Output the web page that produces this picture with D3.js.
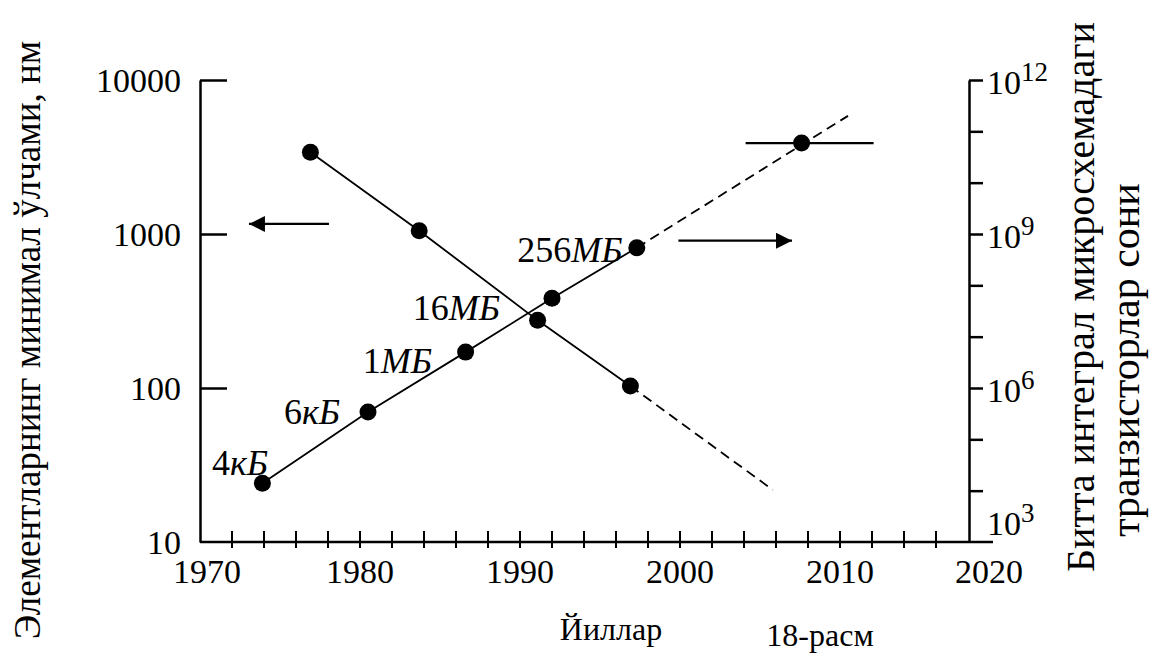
<!DOCTYPE html>
<html><head><meta charset="utf-8">
<script src="https://cdn.jsdelivr.net/npm/d3@7"></script>
<style>
body{margin:0;background:#fff}
svg{display:block}
</style>
</head><body>
<svg id="chart" width="1150" height="655" font-family="'Liberation Serif', 'Times New Roman', Times, serif"></svg>
<script>
// ---- data ----
const featureYears = [1976.9, 1983.7, 1991.1, 1996.9];
const featureSizes = [3400, 1050, 275, 103];              // nm (left axis)
const featureForecastYears = [1996.9, 2005.8];
const featureForecastSizes = [103, 21.8];

const chipYears = [1973.9, 1980.5, 1986.6, 1992.0, 1997.3];
const chipTransistors = [1.4e4, 3.4e5, 5.0e6, 5.6e7, 5.4e8]; // right axis
const chipForecastYears = [1997.3, 2010.5];
const chipForecastTransistors = [5.4e8, 2.0e11];
const futureYear = [2007.6];
const futureTransistors = [5.9e10];
const futureYearRange = [2004.1, 2012.1];

const chipLabelNums = ["4", "6", "1", "16", "256"];
const chipLabelUnits = ["кБ", "кБ", "МБ", "МБ", "МБ"];
const chipLabelYears = [1974.25, 1978.75, 1984.5, 1988.75, 1996.4];
const chipLabelValues = [2.0e4, 2.0e5, 2.0e6, 2.1e7, 2.85e8];

const xTickLabels = [1970, 1980, 1990, 2000, 2010, 2020];
const xMinorTicks = d3.range(1972, 2017, 2);
const leftTickValues = [10, 100, 1000, 10000];
const leftTickLabels = ["10", "100", "1000", "10000"];
const rightTickValues = [1e4, 1e5, 1e6, 1e7, 1e8, 1e9, 1e10, 1e11, 1e12];
const rightLabelValues = [1e3, 1e6, 1e9, 1e12];
const rightLabelExps = ["3", "6", "9", "12"];

// arrows: [fromYear, toYear, value]
const leftArrow = [1978.06, 1973.06, 1162];
const rightArrow = [1999.9, 2007.0, 7.4e8];

const xTitle = "Йиллар";
const figTitle = "18-расм";
const leftTitle = "Элементларнинг минимал ўлчами, нм";
const rightTitle1 = "Битта интеграл микросхемадаги";
const rightTitle2 = "транзисторлар сони";

// ---- layout ----
const FONT = "'Liberation Serif', 'Times New Roman', Times, serif";
const svg = d3.select("#chart");
const x = d3.scaleLinear().domain([1970, 2020]).range([200, 1000]);
const yL = d3.scaleLog().domain([10, 10000]).range([542, 80]);
const yR = d3.scaleLog().domain([1e3, 1e12]).range([542, 80]);
const leftX = 200, rightX = 969, bottomY = 542, bottomEnd = 993;
const AX = 2.5, LW = 1.8;

function txt(sel) { return sel.attr("font-family", FONT).attr("fill", "#000"); }

// defs arrowhead
const defs = svg.append("defs");
defs.append("marker").attr("id","ah").attr("viewBox","0 0 16 16")
  .attr("refX",16).attr("refY",8).attr("markerWidth",16).attr("markerHeight",16)
  .attr("markerUnits","userSpaceOnUse").attr("orient","auto")
  .append("path").attr("d","M0,0 L16,8 L0,16 Z").attr("fill","#000");

// bottom axis
svg.append("line").attr("x1", leftX).attr("x2", bottomEnd).attr("y1", bottomY).attr("y2", bottomY)
  .attr("stroke","#000").attr("stroke-width",AX);
svg.append("g").selectAll("line").data(xMinorTicks).join("line")
  .attr("x1", d => x(d)).attr("x2", d => x(d)).attr("y1", bottomY - 11).attr("y2", bottomY + 6)
  .attr("stroke","#000").attr("stroke-width",2);
txt(svg.append("g").selectAll("text").data(xTickLabels).join("text"))
  .attr("x", (d,i) => x(d) + (i === 0 ? 7 : (i === xTickLabels.length-1 ? -11 : 0)))
  .attr("y", 583).attr("text-anchor","middle").attr("font-size",34).text(d => d);

// left axis
const gL = svg.append("g").attr("transform", `translate(${leftX},0)`)
  .call(d3.axisRight(yL).tickValues(leftTickValues.slice(1)).tickSize(27).tickSizeOuter(0).tickFormat(""));
gL.select(".domain").attr("stroke","#000").attr("stroke-width",AX);
gL.selectAll(".tick line").attr("stroke","#000").attr("stroke-width",AX);
txt(svg.append("g").selectAll("text").data(leftTickValues).join("text"))
  .attr("x", 181).attr("y", d => yL(d)).attr("dy","0.34em").attr("text-anchor","end")
  .attr("font-size",34).text((d,i) => leftTickLabels[i]);

// right axis
const gR = svg.append("g").attr("transform", `translate(${rightX},0)`)
  .call(d3.axisRight(yR).tickValues(rightTickValues).tickSize(14).tickSizeOuter(0).tickFormat(""));
gR.select(".domain").attr("stroke","#000").attr("stroke-width",AX);
gR.selectAll(".tick line").attr("stroke","#000").attr("stroke-width",AX);
const rl = txt(svg.append("g").selectAll("text").data(rightLabelValues).join("text"))
  .attr("x", 987).attr("y", (d,i) => yR(d) + (i === 0 ? -21 : 0)).attr("dy","0.42em")
  .attr("font-size",34);
rl.append("tspan").text("10");
rl.append("tspan").attr("font-size",27).attr("dy","-0.5em").text((d,i) => rightLabelExps[i]);

// feature size line
const lineL = d3.line().x(d => x(d[0])).y(d => yL(d[1]));
const lineR = d3.line().x(d => x(d[0])).y(d => yR(d[1]));
svg.append("path").datum(d3.zip(featureYears, featureSizes)).attr("d", lineL)
  .attr("fill","none").attr("stroke","#000").attr("stroke-width",LW);
svg.append("path").datum(d3.zip(featureForecastYears, featureForecastSizes)).attr("d", lineL)
  .attr("fill","none").attr("stroke","#000").attr("stroke-width",LW).attr("stroke-dasharray","10,6");

// transistor line
svg.append("path").datum(d3.zip(chipYears, chipTransistors)).attr("d", lineR)
  .attr("fill","none").attr("stroke","#000").attr("stroke-width",LW);
svg.append("path").datum(d3.zip(chipForecastYears, chipForecastTransistors)).attr("d", lineR)
  .attr("fill","none").attr("stroke","#000").attr("stroke-width",LW).attr("stroke-dasharray","10,6");

// future range bar
svg.append("line").attr("x1", x(futureYearRange[0])).attr("x2", x(futureYearRange[1]))
  .attr("y1", yR(futureTransistors[0])).attr("y2", yR(futureTransistors[0]))
  .attr("stroke","#000").attr("stroke-width",2.2);

// points
const R = 8.5;
svg.append("g").selectAll("circle").data(d3.zip(featureYears, featureSizes)).join("circle")
  .attr("cx", d => x(d[0])).attr("cy", d => yL(d[1])).attr("r", R).attr("fill","#000");
svg.append("g").selectAll("circle").data(d3.zip(chipYears, chipTransistors)).join("circle")
  .attr("cx", d => x(d[0])).attr("cy", d => yR(d[1])).attr("r", R).attr("fill","#000");
svg.append("g").selectAll("circle").data(d3.zip(futureYear, futureTransistors)).join("circle")
  .attr("cx", d => x(d[0])).attr("cy", d => yR(d[1])).attr("r", R).attr("fill","#000");

// point labels
const pl = txt(svg.append("g").selectAll("text").data(chipLabelNums).join("text"))
  .attr("x", (d,i) => x(chipLabelYears[i])).attr("y", (d,i) => yR(chipLabelValues[i]))
  .attr("text-anchor","end").attr("font-size",36);
pl.append("tspan").text(d => d);
pl.append("tspan").attr("font-style","italic").text((d,i) => chipLabelUnits[i]);

// arrows
svg.append("line").attr("x1", x(leftArrow[0])).attr("x2", x(leftArrow[1]))
  .attr("y1", yL(leftArrow[2])).attr("y2", yL(leftArrow[2]))
  .attr("stroke","#000").attr("stroke-width",2.2).attr("marker-end","url(#ah)");
svg.append("line").attr("x1", x(rightArrow[0])).attr("x2", x(rightArrow[1]))
  .attr("y1", yR(rightArrow[2])).attr("y2", yR(rightArrow[2]))
  .attr("stroke","#000").attr("stroke-width",2.2).attr("marker-end","url(#ah)");

// titles
txt(svg.append("text")).attr("x", 611).attr("y", 640).attr("text-anchor","middle").attr("font-size",32).text(xTitle);
txt(svg.append("text")).attr("x", 820).attr("y", 646).attr("text-anchor","middle").attr("font-size",32).text(figTitle);
txt(svg.append("text")).attr("transform","translate(40,340) rotate(-90)").attr("text-anchor","middle")
  .attr("font-size",37).text(leftTitle);
txt(svg.append("text")).attr("transform","translate(1094,297) rotate(-90)").attr("text-anchor","middle")
  .attr("font-size",40).text(rightTitle1);
txt(svg.append("text")).attr("transform","translate(1139,360) rotate(-90)").attr("text-anchor","middle")
  .attr("font-size",42).text(rightTitle2);
</script>
</body></html>
